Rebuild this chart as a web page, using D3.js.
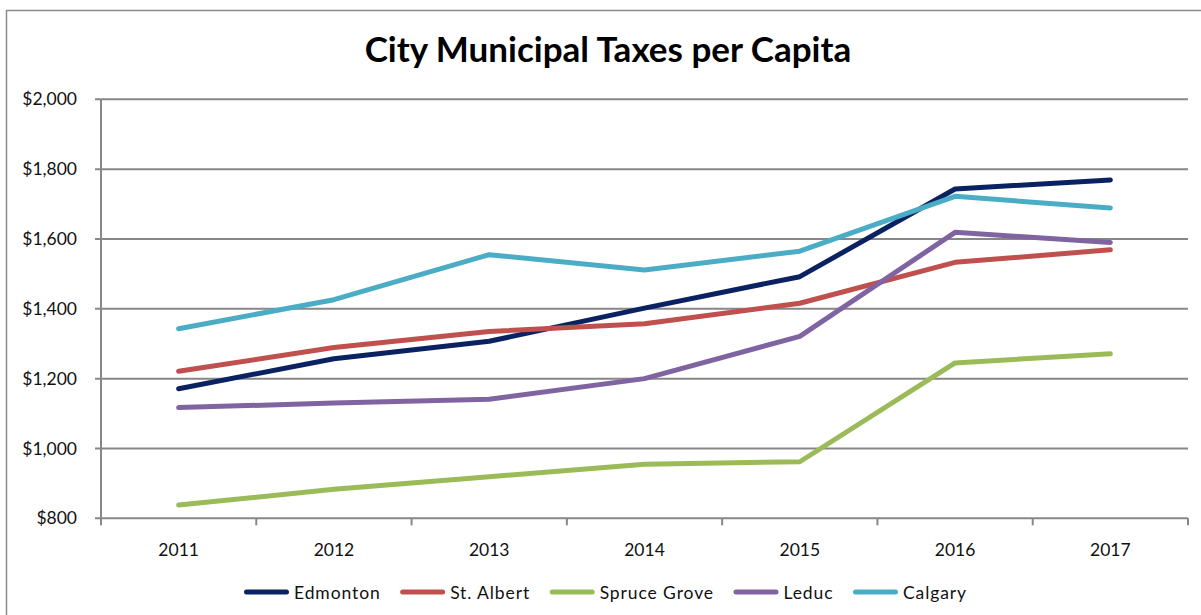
<!DOCTYPE html>
<html>
<head>
<meta charset="utf-8">
<script src="https://cdn.jsdelivr.net/npm/d3@7"></script>
<style>
  html, body { margin: 0; padding: 0; background: #fff; }
  svg { display: block; font-family: Lato, "Open Sans", sans-serif; }
</style>
</head>
<body>
<svg id="chart" width="1201" height="615"></svg>
<script>
// Municipal taxes per capita, by city and year
const years = ["2011", "2012", "2013", "2014", "2015", "2016", "2017"];
const edmonton    = [1171, 1257, 1307, 1402, 1492, 1743, 1769];
const stAlbert    = [1221, 1289, 1335, 1357, 1416, 1533, 1569];
const spruceGrove = [838, 883, 919, 955, 962, 1245, 1271];
const leduc       = [1117, 1130, 1141, 1200, 1321, 1619, 1590];
const calgary     = [1343, 1426, 1555, 1511, 1565, 1722, 1689];
const seriesNames = ["Edmonton", "St. Albert", "Spruce Grove", "Leduc", "Calgary"];
const seriesColors = ["#0b2262", "#c0504d", "#9bbb59", "#8064a2", "#4bacc6"];
const yTicks = [800, 1000, 1200, 1400, 1600, 1800, 2000];

const series = [edmonton, stAlbert, spruceGrove, leduc, calgary].map((vals, i) => ({
  name: seriesNames[i], color: seriesColors[i], values: vals
}));

const svg = d3.select("#chart");
const margin = { left: 101, right: 13, top: 99, bottom: 96 };
const W = 1201, H = 615;

// outer frame
svg.append("path")
  .attr("d", `M6.5,${H} L6.5,10.5 L${W},10.5`)
  .attr("fill", "none").attr("stroke", "#8c8c8c").attr("stroke-width", 1.5);

// title
svg.append("text")
  .attr("x", 608).attr("y", 62)
  .attr("text-anchor", "middle")
  .attr("font-size", 35).attr("font-weight", 700)
  .attr("fill", "#000")
  .text("City Municipal Taxes per Capita");

const x = d3.scaleBand().domain(years)
  .range([margin.left, W - margin.right]).padding(0);
const y = d3.scaleLinear().domain([800, 2000])
  .range([H - margin.bottom - 0.7, margin.top + 0.3]);

const gridColor = "#878787";

// horizontal gridlines
svg.append("g").selectAll("line").data(yTicks).join("line")
  .attr("x1", margin.left - 6).attr("x2", W - margin.right)
  .attr("y1", d => y(d)).attr("y2", d => y(d))
  .attr("stroke", gridColor).attr("stroke-width", 2);

// y axis labels
const yAxis = d3.axisLeft(y).tickValues(yTicks)
  .tickFormat(d => "$" + d3.format(",")(d)).tickSize(0).tickPadding(24);
const gy = svg.append("g").attr("transform", `translate(${margin.left},0)`).call(yAxis);
gy.select(".domain").remove();
gy.selectAll("text").attr("font-size", 17.5).attr("fill", "#111")
  .attr("font-family", "Lato, 'Open Sans', sans-serif");

// y axis line
svg.append("line")
  .attr("x1", margin.left).attr("x2", margin.left)
  .attr("y1", y(2000)).attr("y2", y(800) + 7)
  .attr("stroke", gridColor).attr("stroke-width", 2);

// x axis ticks at band boundaries
const bounds = years.map(d => x(d)).concat([x(years[years.length - 1]) + x.bandwidth()]);
svg.append("g").selectAll("line").data(bounds.slice(1)).join("line")
  .attr("x1", d => d).attr("x2", d => d)
  .attr("y1", y(800)).attr("y2", y(800) + 7)
  .attr("stroke", gridColor).attr("stroke-width", 2);

// x labels
const xAxis = d3.axisBottom(x).tickSize(0).tickPadding(25.5);
const gx = svg.append("g").attr("transform", `translate(0,${y(800)})`).call(xAxis);
gx.select(".domain").remove();
gx.selectAll("text").attr("font-size", 17.5).attr("fill", "#111")
  .attr("font-family", "Lato, 'Open Sans', sans-serif");

// lines
const line = d3.line()
  .x((d, i) => x(years[i]) + x.bandwidth() / 2)
  .y(d => y(d));

svg.append("g").selectAll("path").data(series).join("path")
  .attr("d", d => line(d.values))
  .attr("fill", "none")
  .attr("stroke", d => d.color)
  .attr("stroke-width", 5)
  .attr("stroke-linecap", "round")
  .attr("stroke-linejoin", "round");

// legend
const legend = svg.append("g").attr("transform", "translate(246.5,592)");
let cursor = 0;
series.forEach(s => {
  const g = legend.append("g").attr("transform", `translate(${cursor},0)`);
  g.append("line").attr("x1", 0).attr("x2", 40).attr("y1", 0).attr("y2", 0)
    .attr("stroke", s.color).attr("stroke-width", 5).attr("stroke-linecap", "round");
  const t = g.append("text").attr("x", 47.5).attr("y", 6.5)
    .attr("font-size", 17.5).attr("fill", "#111").attr("letter-spacing", 0.9)
    .text(s.name);
  cursor += 47.5 + t.node().getComputedTextLength() + 22;
});
</script>
</body>
</html>
